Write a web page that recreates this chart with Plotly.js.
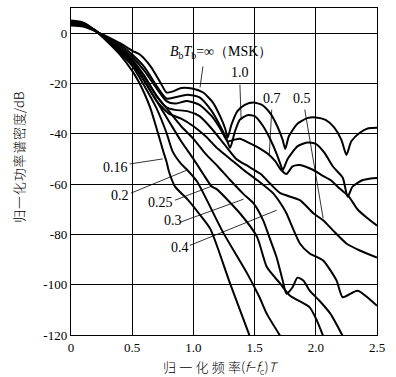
<!DOCTYPE html>
<html><head><meta charset="utf-8">
<script src="https://cdn.plot.ly/plotly-3.0.1.min.js"></script>
<style>body{margin:0;background:#fff}#chart{width:396px;height:377px}</style>
</head><body><div id="chart"></div>
<script>
// Curves: normalized PSD (dB) vs normalized frequency (f-fc)T
const xMSK = [0,0.1,0.2,0.3,0.4,0.5,0.56,0.65,0.73,0.78,0.83,0.9,0.99,1.08,1.16,1.22,1.26,1.28,1.31,1.36,1.42,1.49,1.56,1.63,1.69,1.73,1.75,1.78,1.85,1.93,2.0,2.08,2.15,2.21,2.25,2.29,2.36,2.43,2.5];
const yMSK = [3,2.6,0.8,-1.5,-4,-7,-8.4,-13.2,-19.6,-23.6,-23.2,-21.8,-22,-23.6,-27.6,-33.2,-38,-41.6,-36.5,-31,-28.5,-27.6,-28.5,-32,-37.5,-42.5,-46,-41,-36,-33.8,-33.5,-34.5,-37.5,-42.5,-48.4,-43,-39.6,-37.8,-37.6];
const x10 = [0,0.1,0.2,0.3,0.4,0.5,0.6,0.7,0.78,0.85,0.95,1.05,1.15,1.22,1.27,1.3,1.34,1.38,1.44,1.5,1.57,1.63,1.68,1.71,1.73,1.77,1.85,1.93,2.0,2.07,2.14,2.22,2.26,2.3,2.38,2.45,2.5];
const y10 = [3.3,2.8,0.8,-1.8,-4.6,-8.5,-13.5,-21,-26,-25.5,-24.5,-25.5,-31,-37,-42,-45.6,-39,-34.4,-32.6,-33,-37,-42.4,-48,-52,-54.4,-50,-45,-43.5,-44,-47.5,-53,-57.5,-65,-61,-58.5,-57.8,-57.6];
const x07 = [0,0.1,0.2,0.3,0.4,0.5,0.6,0.7,0.78,0.85,0.95,1.05,1.15,1.22,1.28,1.33,1.38,1.45,1.52,1.58,1.62,1.67,1.71,1.76,1.81,1.87,1.98,2.05,2.12,2.2,2.27,2.34,2.42,2.5];
const y07 = [3.6,3.0,0.8,-2.2,-5.4,-9.5,-15,-22,-27,-28,-27,-28.5,-33,-38,-43,-42.4,-42,-43.5,-45.2,-47,-48.4,-51,-54,-56,-53,-52.4,-54.4,-56.5,-58.4,-62,-65,-70,-73.5,-76.5];
const x05 = [0,0.1,0.2,0.3,0.4,0.5,0.6,0.7,0.78,0.85,0.95,1.05,1.15,1.25,1.35,1.45,1.55,1.63,1.71,1.87,1.98,2.06,2.14,2.25,2.36,2.5];
const y05 = [3.9,3.2,0.9,-2.5,-6,-10.5,-17,-25,-29.5,-30.5,-31,-33,-38,-44,-50,-53,-56,-60,-63.6,-66.4,-71.6,-74.4,-78.4,-83.6,-86.4,-89.2];
const x04 = [0,0.1,0.2,0.3,0.4,0.5,0.6,0.7,0.8,0.9,1.0,1.1,1.2,1.3,1.4,1.52,1.65,1.73,1.76,1.87,1.95,2.06,2.17,2.22,2.34,2.5];
const y04 = [4.1,3.4,0.9,-2.7,-6.5,-12,-19,-27,-32,-34,-37,-41,-46,-50,-54,-58.4,-63.6,-69,-71.6,-83.6,-87.6,-90.4,-98.4,-105,-102.4,-108.4];
const x03 = [0,0.1,0.2,0.3,0.4,0.5,0.6,0.7,0.8,0.9,1.0,1.1,1.2,1.3,1.41,1.49,1.57,1.63,1.68,1.73,1.76,1.81,1.85,1.9,1.95,2.03,2.12,2.22];
const y03 = [4.3,3.6,1,-2.9,-7,-11,-17.5,-25,-31,-37,-42,-48,-53,-58.4,-64,-67.6,-74.4,-82.4,-89.2,-98.4,-103.6,-101,-97.2,-98.4,-102.4,-106.4,-111.6,-120.4];
const x025 = [0,0.1,0.2,0.3,0.4,0.5,0.6,0.7,0.8,0.9,1.0,1.08,1.15,1.19,1.38,1.52,1.6,1.71,1.79,1.95,2.01,2.06];
const y025 = [4.5,3.8,1,-3,-7.3,-12,-19,-27,-35,-43,-50,-56,-61,-62,-71.6,-81,-93,-99.6,-104.4,-109,-114.4,-120.4];
const x02 = [0,0.1,0.2,0.3,0.4,0.5,0.6,0.7,0.78,0.83,0.9,0.95,1.03,1.24,1.44,1.54,1.6,1.71];
const y02 = [4.7,4.0,1,-3.2,-7.8,-13,-21,-30,-39.6,-47,-52,-54.4,-59,-79,-95.6,-105,-111.6,-120.4];
const x016 = [0,0.1,0.2,0.3,0.4,0.5,0.55,0.6,0.65,0.7,0.73,0.76,0.78,0.8,0.85,0.95,1.05,1.14,1.3,1.46];
const y016 = [5,4.2,1,-3.5,-8.5,-15,-19,-24,-30,-38,-43,-48,-51,-55,-61,-66,-72,-78,-99.6,-120.4];

const xs = [xMSK,x10,x07,x05,x04,x03,x025,x02,x016];
const ys = [yMSK,y10,y07,y05,y04,y03,y025,y02,y016];
const names = ['MSK','1.0','0.7','0.5','0.4','0.3','0.25','0.2','0.16'];

const xTickVals = [0,0.5,1.0,1.5,2.0,2.5];
const xTickText = ['0','0.5','1.0','1.5','2.0','2.5'];
const yTickVals = [0,-20,-40,-60,-80,-100,-120];
const yTickText = ['0','-20','-40','-60','-80','-100','-120'];

const traces = xs.map((x,i)=>({x:x,y:ys[i],name:names[i],type:'scatter',mode:'lines',
  line:{color:'#000',width:2,shape:'spline',smoothing:0.6},hoverinfo:'skip'}));

const serif = 'Liberation Serif, Times New Roman, serif';
const cjk = 'Noto Sans CJK SC, ' + serif;
const lbl = (x,y,t,anchor)=>({x:x,y:y,xref:'x',yref:'y',text:t,showarrow:false,xanchor:anchor||'center',yanchor:'middle',font:{family:serif,size:14,color:'#000'}});
const ptr = (x0,y0,x1,y1)=>({type:'line',xref:'x',yref:'y',x0:x0,y0:y0,x1:x1,y1:y1,line:{color:'#000',width:0.8}});
const sp = '\u2005';
const sy = '\u200A';

const layout = {
  width:396,height:377,
  margin:{l:71,r:19,t:8,b:42},
  paper_bgcolor:'#fff',plot_bgcolor:'#fff',
  showlegend:false,
  font:{family:serif,size:13,color:'#000'},
  xaxis:{range:[0,2.5],tickvals:xTickVals,ticktext:xTickText,showgrid:true,gridcolor:'#000',gridwidth:1,
    zeroline:false,showline:true,linecolor:'#000',linewidth:1.2,mirror:true,ticks:'',ticklen:0,
    tickfont:{family:serif,size:13}},
  yaxis:{range:[-120,10],tickvals:yTickVals,ticktext:yTickText,showgrid:true,gridcolor:'#000',gridwidth:1,
    zeroline:false,showline:true,linecolor:'#000',linewidth:1.2,mirror:true,ticks:'',ticklen:0,
    tickfont:{family:serif,size:13}},
  annotations:[
    lbl(0.79,-7.6,'<i>B</i><sub>b</sub><i>T</i><sub>b</sub>=∞（MSK）','left'),
    lbl(1.38,-15.6,'1.0'),
    lbl(1.64,-26,'0.7'),
    lbl(1.89,-26,'0.5'),
    lbl(0.36,-53.6,'0.16'),
    lbl(0.40,-64.4,'0.2'),
    lbl(0.73,-67.2,'0.25'),
    lbl(0.83,-74.4,'0.3'),
    lbl(0.89,-85.2,'0.4'),
    {xref:'paper',yref:'paper',x:0.487,y:-0.062,xanchor:'center',yanchor:'top',showarrow:false,
     text:['归','一','化','频','率'].join(sp)+'(<i>f</i>−<i>f</i><sub>c</sub>)<i>T</i>',
     font:{family:cjk,size:13,color:'#000',weight:300}},
    {xref:'paper',yref:'paper',x:-0.17,y:0.545,xanchor:'center',yanchor:'middle',showarrow:false,textangle:-90,
     text:['归','一','化','功','率','谱','密','度'].join(sy)+'/dB',
     font:{family:cjk,size:13,color:'#000',weight:300}}
  ],
  shapes:[
    ptr(1.078,-13.2,1.054,-21.6),
    ptr(1.38,-20.4,1.39,-34.4),
    ptr(1.64,-30.4,1.62,-48.4),
    ptr(1.91,-30.4,2.06,-73.6),
    ptr(0.48,-52,0.75,-50),
    ptr(0.49,-63.6,0.95,-54.4),
    ptr(0.85,-66.4,1.15,-60.8),
    ptr(0.89,-75.2,1.41,-66),
    ptr(0.97,-84.4,1.68,-70.4)
  ]
};
Plotly.newPlot('chart',traces,layout,{staticPlot:true,displayModeBar:false});
</script></body></html>
